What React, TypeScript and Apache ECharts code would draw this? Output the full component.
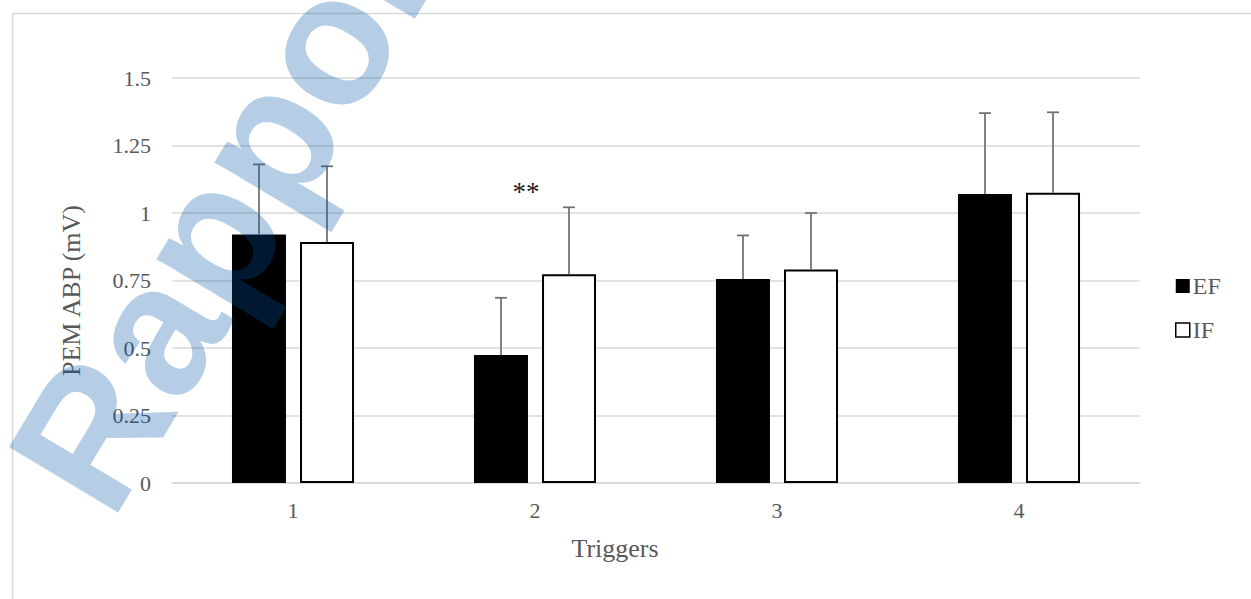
import React, { useEffect, useRef } from "react";
import * as echarts from "echarts";

const categories = ["1", "2", "3", "4"];
const efMean = [0.92, 0.474, 0.756, 1.07];
const efSd = [0.26, 0.212, 0.161, 0.3];
const ifMean = [0.893, 0.773, 0.791, 1.075];
const ifSd = [0.28, 0.248, 0.209, 0.298];
const yTicks = { min: 0, max: 1.5, interval: 0.25 };
const seriesNames = ["EF", "IF"];

const FONT = "'Liberation Serif', 'Times New Roman', serif";
const BAR_W = 54;
const BAR_OFFSET = 34;

function errSeries(name: string, means: number[], sds: number[], offset: number) {
  return {
    type: "custom",
    name,
    silent: true,
    z: 5,
    data: means.map((m, i) => [i, m, sds[i]]),
    encode: { x: 0, y: 1 },
    renderItem: (params: any, api: any) => {
      const i = api.value(0);
      const mean = api.value(1);
      const sd = api.value(2);
      const base = api.coord([i, mean]);
      const top = api.coord([i, mean + sd]);
      const x = base[0] + offset;
      const style = { stroke: "#707070", lineWidth: 1.75 };
      return {
        type: "group",
        children: [
          { type: "line", shape: { x1: x, y1: base[1], x2: x, y2: top[1] }, style },
          { type: "line", shape: { x1: x - 6, y1: top[1], x2: x + 6, y2: top[1] }, style },
        ],
      };
    },
  };
}

export default function App() {
  const ref = useRef<HTMLDivElement>(null);
  useEffect(() => {
    if (!ref.current) return;
    const chart = echarts.init(ref.current, null, { renderer: "svg" });
    const ang = (59 * Math.PI) / 180;
    chart.setOption({
      animation: false,
      backgroundColor: "#fff",
      textStyle: { fontFamily: FONT },
      grid: { left: 172, right: 111, top: 78, bottom: 116 },
      legend: {
        orient: "vertical",
        left: 1175,
        top: 271,
        padding: 0,
        itemWidth: 14,
        itemHeight: 14,
        itemGap: 14,
        icon: "rect",
        textStyle: { fontFamily: FONT, fontSize: 24, color: "#595959", lineHeight: 30, padding: [0, 0, 0, -2] },
        data: [
          { name: "EF", itemStyle: { color: "#000", borderColor: "#000", borderWidth: 0 } },
          { name: "IF", itemStyle: { color: "#fff", borderColor: "#000", borderWidth: 1.5 } },
        ],
      },
      xAxis: {
        type: "category",
        data: categories,
        name: "Triggers",
        nameLocation: "middle",
        nameGap: 52,
        nameTextStyle: { fontFamily: FONT, fontSize: 26, color: "#595959", padding: [0, 82, 0, 0] },
        axisLine: { lineStyle: { color: "#d9d9d9", width: 1.5 } },
        axisTick: { show: false },
        axisLabel: { fontFamily: FONT, fontSize: 22, color: "#595959", margin: 16 },
      },
      yAxis: {
        type: "value",
        min: yTicks.min,
        max: yTicks.max,
        interval: yTicks.interval,
        name: "PEM ABP (mV)",
        nameLocation: "middle",
        nameGap: 88,
        nameTextStyle: { fontFamily: FONT, fontSize: 26, color: "#595959", padding: [0, 20, 0, 0] },
        axisLine: { show: false },
        axisTick: { show: false },
        splitLine: { lineStyle: { color: "#d9d9d9", width: 1.5 } },
        axisLabel: { fontFamily: FONT, fontSize: 22, color: "#595959", margin: 21 },
      },
      series: [
        {
          type: "bar",
          name: seriesNames[0],
          data: efMean,
          barWidth: BAR_W,
          barGap: "26%",
          itemStyle: { color: "#000" },
        },
        {
          type: "bar",
          name: seriesNames[1],
          data: ifMean,
          barWidth: BAR_W,
          barGap: "26%",
          itemStyle: { color: "#fff", borderColor: "#000", borderWidth: 2 },
        },
        errSeries("EF err", efMean, efSd, -BAR_OFFSET),
        errSeries("IF err", ifMean, ifSd, BAR_OFFSET),
      ],
      graphic: [
        {
          type: "rect",
          left: 10,
          top: 11,
          shape: { x: 0, y: 0, width: 1260, height: 620 },
          style: { fill: "none", stroke: "#d9d9d9", lineWidth: 1.5 },
          z: -1,
        },
        {
          type: "text",
          x: 526,
          y: 192,
          style: {
            text: "**",
            fontFamily: FONT,
            fontSize: 27,
            fill: "#1a1a1a",
            align: "center",
            verticalAlign: "middle",
          },
          z: 10,
        },
        {
          type: "text",
          x: 57,
          y: 490,
          rotation: ang,
          silent: true,
          style: {
            text: "Rapport",
            fontFamily: "'Liberation Sans', Arial, sans-serif",
            fontWeight: "bold",
            fontSize: 185,
            fill: "rgba(0,85,170,0.29)",
            align: "left",
            verticalAlign: "middle",
          },
          z: 100,
        },
      ],
    });
    return () => chart.dispose();
  }, []);
  return (
    <div
      ref={ref}
      style={{ position: "fixed", left: 0, top: 0, width: 1251, height: 599 }}
    />
  );
}
